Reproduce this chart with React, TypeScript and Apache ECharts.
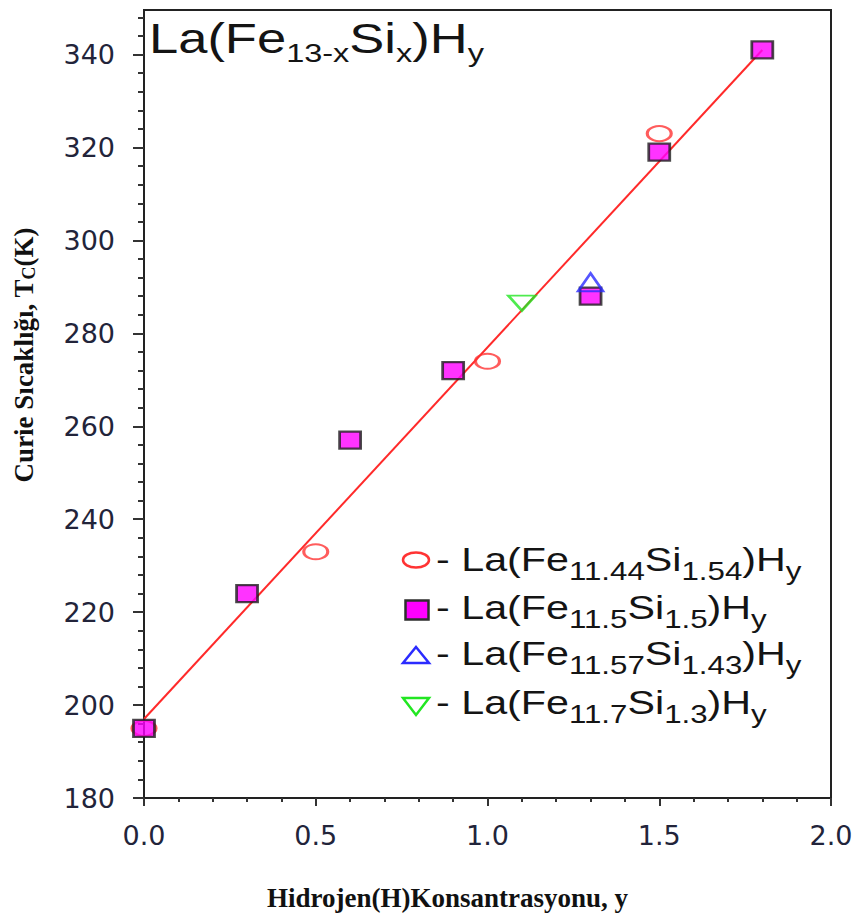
import React, { useEffect, useRef } from 'react';
import * as echarts from 'echarts';

// ---- data ----
const yTickValues = [180, 200, 220, 240, 260, 280, 300, 320, 340];
const xTickValues = [0, 0.5, 1.0, 1.5, 2.0];

const squareX = [0, 0.3, 0.6, 0.9, 1.3, 1.5, 1.8];
const squareY = [195, 224, 257, 272, 288, 319, 341];

const circleX = [0, 0.5, 1.0, 1.5];
const circleY = [195, 233, 274, 323];

const triUpX = [1.3];
const triUpY = [291];

const triDownX = [1.1];
const triDownY = [286.5];

const fitX = [0, 1.8];
const fitY = [197, 341];

const seriesNames = [
  'La(Fe11.44Si1.54)Hy',
  'La(Fe11.5Si1.5)Hy',
  'La(Fe11.57Si1.43)Hy',
  'La(Fe11.7Si1.3)Hy',
];
const legendRich = [
  '{m|- La(Fe}{s|11.44}{m|Si}{s|1.54}{m|)H}{s|y}',
  '{m|- La(Fe}{s|11.5}{m|Si}{s|1.5}{m|)H}{s|y}',
  '{m|- La(Fe}{s|11.57}{m|Si}{s|1.43}{m|)H}{s|y}',
  '{m|- La(Fe}{s|11.7}{m|Si}{s|1.3}{m|)H}{s|y}',
];
const titleRich = '{m|La(Fe}{s|13-x}{m|Si}{s|x}{m|)H}{s|y}';

const yMinorTicks = Array.from({ length: 43 }, (_, i) => 180 + 4 * i).filter((v) => v % 20 !== 0);

const zip = (xs: number[], ys: number[]) => xs.map((x, i) => [x, ys[i]]);

const TXT = '#141414';
const TICKLBL = '#22243a';
const SANS = 'Liberation Sans, Arial, sans-serif';

export default function App() {
  const ref = useRef<HTMLDivElement>(null);
  useEffect(() => {
    if (!ref.current) return;
    const chart = echarts.init(ref.current, undefined, { renderer: 'svg' });

    const legendRows = [560, 608, 654, 703];
    const legendText = legendRich.map((t, i) => ({
      type: 'group',
      x: 436,
      y: legendRows[i],
      scaleX: 1.25,
      children: [
        {
          type: 'text',
          x: 0,
          y: 0,
          style: {
            text: t,
            align: 'left',
            verticalAlign: 'middle',
            rich: {
              m: { fontSize: 33, fontFamily: SANS, fill: TXT },
              s: { fontSize: 25, fontFamily: SANS, fill: TXT, padding: [22, 0, 0, 0] },
            },
          },
        },
      ],
    }));

    const option: any = {
      animation: false,
      backgroundColor: '#ffffff',
      grid: {
        left: 144,
        right: 26,
        top: 10,
        bottom: 122,
        show: true,
        borderColor: '#222',
        borderWidth: 2,
        backgroundColor: 'transparent',
      },
      xAxis: [
        {
          type: 'value',
          min: 0,
          max: 2,
          interval: 0.5,
          name: 'Hidrojen(H)Konsantrasyonu, y',
          nameLocation: 'middle',
          nameGap: 86,
          nameTextStyle: {
            fontFamily: 'Liberation Serif, Times New Roman, serif',
            fontWeight: 'bold',
            fontSize: 27,
            color: '#111',
            padding: [0, 80, 0, 0],
          },
          axisLine: { show: true, onZero: false, lineStyle: { color: '#222', width: 2 } },
          axisTick: { show: true, length: 8, lineStyle: { color: '#333', width: 2 } },
          minorTick: { show: true, splitNumber: 5, length: 4, lineStyle: { color: '#333', width: 2 } },
          axisLabel: {
            margin: 24,
            fontSize: 27,
            fontFamily: 'DejaVu Sans, sans-serif',
            color: TICKLBL,
            formatter: (v: number) => v.toFixed(1),
          },
          splitLine: { show: false },
          minorSplitLine: { show: false },
        },
      ],
      yAxis: [
        {
          type: 'value',
          min: 180,
          max: 349.6,
          name: 'Curie Sıcaklığı, T{s|C}(K)',
          nameLocation: 'middle',
          nameGap: 106,
          nameRotate: 90,
          nameTextStyle: {
            fontFamily: 'Liberation Serif, Times New Roman, serif',
            fontWeight: 'bold',
            fontSize: 27,
            color: '#111',
            padding: [0, 0, 0, 98],
            rich: {
              s: {
                fontFamily: 'Liberation Serif, Times New Roman, serif',
                fontWeight: 'bold',
                fontSize: 18,
                color: '#111',
                padding: [10, 0, 0, 0],
              },
            },
          },
          axisLine: { show: true, onZero: false, lineStyle: { color: '#222', width: 2 } },
          axisTick: { show: true, length: 11, customValues: yTickValues, lineStyle: { color: '#333', width: 2 } },
          axisLabel: {
            customValues: yTickValues,
            margin: 29,
            fontSize: 27,
            fontFamily: 'DejaVu Sans, sans-serif',
            color: TICKLBL,
          },
          splitLine: { show: false },
        },
        {
          type: 'value',
          min: 180,
          max: 349.6,
          position: 'left',
          axisLine: { show: false },
          axisTick: { show: true, length: 6, customValues: yMinorTicks, lineStyle: { color: '#333', width: 2 } },
          axisLabel: { show: false },
          splitLine: { show: false },
        },
      ],
      series: [
        {
          type: 'line',
          name: 'fit',
          data: zip(fitX, fitY),
          showSymbol: false,
          symbol: 'none',
          lineStyle: { color: '#ff2a2a', width: 2 },
          z: 1,
        },
        {
          type: 'scatter',
          name: seriesNames[0],
          data: zip(circleX, circleY),
          symbol: 'circle',
          symbolSize: [24, 15],
          itemStyle: { color: 'rgba(255,255,255,0)', borderColor: '#ff3333', borderWidth: 2.5 },
          z: 2,
        },
        {
          type: 'scatter',
          name: seriesNames[1],
          data: zip(squareX, squareY),
          symbol: 'rect',
          symbolSize: [21, 17],
          itemStyle: { color: '#ff00ff', borderColor: '#1e1e1e', borderWidth: 2.5 },
          z: 3,
        },
        {
          type: 'scatter',
          name: seriesNames[2],
          data: zip(triUpX, triUpY),
          symbol: 'triangle',
          symbolSize: [25, 18],
          itemStyle: { color: 'rgba(255,255,255,0)', borderColor: '#2b2bff', borderWidth: 2.5 },
          z: 4,
        },
        {
          type: 'scatter',
          name: seriesNames[3],
          data: zip(triDownX, triDownY),
          symbol: 'triangle',
          symbolRotate: 180,
          symbolSize: [27, 15],
          itemStyle: { color: 'rgba(255,255,255,0)', borderColor: '#22e622', borderWidth: 2.5 },
          z: 4,
        },
      ],
      graphic: [
        {
          type: 'group',
          x: 149,
          y: 38.4,
          scaleX: 1.25,
          children: [
            {
              type: 'text',
              x: 0,
              y: 0,
              style: {
                text: titleRich,
                align: 'left',
                verticalAlign: 'middle',
                rich: {
                  m: { fontSize: 42, fontFamily: SANS, fill: TXT },
                  s: { fontSize: 26, fontFamily: SANS, fill: TXT, padding: [28, 0, 0, 0] },
                },
              },
            },
          ],
        },
        // legend icons
        {
          type: 'ellipse',
          shape: { cx: 416, cy: 560, rx: 13, ry: 7.5 },
          style: { fill: 'none', stroke: '#ff3333', lineWidth: 2.5 },
        },
        {
          type: 'rect',
          shape: { x: 405.5, y: 600.5, width: 23, height: 19 },
          style: { fill: '#ff00ff', stroke: '#2e2e2e', lineWidth: 2.5 },
        },
        {
          type: 'polygon',
          shape: { points: [[416, 647], [429, 663], [403, 663]] },
          style: { fill: 'none', stroke: '#2b2bff', lineWidth: 2.5 },
        },
        {
          type: 'polygon',
          shape: { points: [[403, 698], [429, 698], [416, 715]] },
          style: { fill: 'none', stroke: '#22e622', lineWidth: 2.5 },
        },
        ...legendText,
      ],
    };

    chart.setOption(option);
    return () => chart.dispose();
  }, []);

  return (
    <div
      ref={ref}
      style={{ position: 'absolute', left: 0, top: 0, width: 857, height: 920, background: '#fff' }}
    />
  );
}
